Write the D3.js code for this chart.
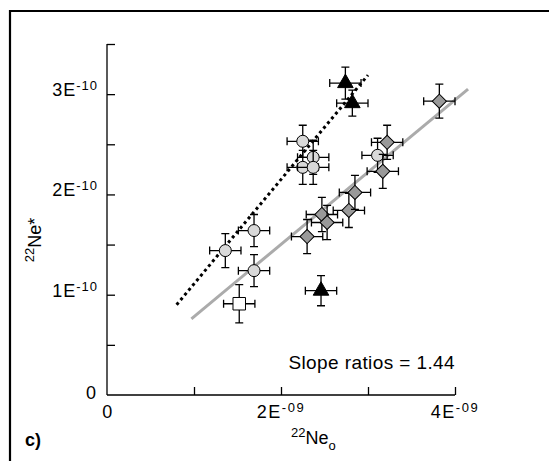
<!DOCTYPE html>
<html>
<head>
<meta charset="utf-8">
<script src="https://cdn.jsdelivr.net/npm/d3@7"></script>
<style>
  html, body { margin: 0; padding: 0; background: #fff; }
  svg { display: block; }
  text { font-family: "Liberation Sans", Arial, Helvetica, sans-serif; fill: #000; }
</style>
</head>
<body>
<svg id="chart" width="549" height="461"></svg>
<script>
// ---- data (x in units of 1E-09, y in units of 1E-10) ----
const circleX = [2.25, 2.37, 2.25, 2.37, 1.36, 1.69, 1.69, 3.11];
const circleY = [2.53, 2.37, 2.27, 2.27, 1.44, 1.64, 1.24, 2.39];
const circleYErr = [0.16, 0.17, 0.17, 0.17, 0.17, 0.16, 0.16, 0.17];

const diamondX = [2.30, 2.47, 2.53, 2.78, 2.85, 3.17, 3.22, 3.82];
const diamondY = [1.58, 1.80, 1.72, 1.84, 2.02, 2.23, 2.52, 2.93];
const diamondYErr = [0.17, 0.17, 0.17, 0.17, 0.17, 0.17, 0.17, 0.17];

const triangleX = [2.74, 2.82, 2.46];
const triangleY = [3.11, 2.91, 1.04];
const triangleYErr = [0.16, 0.13, 0.15];

const squareX = [1.52];
const squareY = [0.91];
const squareYErr = [0.19];

const xErr = 0.18;

const grayLineX = [0.97, 4.15];
const grayLineY = [0.76, 3.05];
const dotLineX = [0.80, 3.00];
const dotLineY = [0.90, 3.19];

const yTicks = [0.5, 1, 1.5, 2, 2.5, 3, 3.5];
const yLabelVals = [1, 2, 3];
const yLabelMain = ["1E", "2E", "3E"];
const yLabelSup = ["-10", "-10", "-10"];
const xTicks = [1, 2, 3, 4];
const xLabelVals = [2, 4];
const xLabelMain = ["2E", "4E"];
const xLabelSup = ["-09", "-09"];
const slopeText = "Slope ratios = 1.44";

// ---- layout ----
const svg = d3.select("#chart");
const x = d3.scaleLinear().domain([0, 4]).range([107, 455]);
const y = d3.scaleLinear().domain([0, 3.5]).range([395, 44]);

// frame (top and left edges)
svg.append("path").attr("d", "M10,461 L10,11 L549,11")
  .attr("fill", "none").attr("stroke", "#000").attr("stroke-width", 2.2);

// axes
const gy = svg.append("g").attr("transform", `translate(${x(0)},0)`)
  .call(d3.axisRight(y).tickValues(yTicks).tickSize(8).tickFormat(""));
const gx = svg.append("g").attr("transform", `translate(0,${y(0)})`)
  .call(d3.axisTop(x).tickValues(xTicks).tickSize(8).tickFormat(""));
[gy, gx].forEach(g => {
  g.select(".domain").attr("stroke", "#000").attr("stroke-width", 1.3);
  g.selectAll(".tick line").attr("stroke", "#000").attr("stroke-width", 1.3);
});
gy.select(".domain").attr("d", `M0,${y(3.5)}V${y(0)}`);
gx.select(".domain").attr("d", `M${x(0)},0H${x(4)}`);
gy.selectAll(".tick line").attr("x2", 8);

// y tick labels
const ylab = svg.append("g").style("font-size", "18px").style("letter-spacing", "1px");
yLabelVals.forEach((v, i) => {
  const t = ylab.append("text").attr("x", 98).attr("y", y(v) + 2).attr("text-anchor", "end");
  t.append("tspan").text(yLabelMain[i]);
  t.append("tspan").attr("dy", -6).style("font-size", "13px").text(yLabelSup[i]);
});
ylab.append("text").attr("x", 97).attr("y", y(0) + 4).attr("text-anchor", "end").text("0");

// x tick labels
const xlab = svg.append("g").style("font-size", "18px").style("letter-spacing", "1.5px");
xlab.append("text").attr("x", x(0) + 1).attr("y", 418).attr("text-anchor", "middle").text("0");
xLabelVals.forEach((v, i) => {
  const t = xlab.append("text").attr("x", x(v)).attr("y", 418).attr("text-anchor", "middle");
  t.append("tspan").text(xLabelMain[i]);
  t.append("tspan").attr("dy", -6).style("font-size", "13px").text(xLabelSup[i]);
});

// axis titles
const xt = svg.append("text").attr("x", 291).attr("y", 444).style("font-size", "18px");
xt.append("tspan").style("font-size", "13px").attr("dy", -7).text("22");
xt.append("tspan").attr("dy", 7).text("Ne");
xt.append("tspan").style("font-size", "13px").attr("dy", 6).text("o");

const yt = svg.append("text").attr("transform", "translate(41,240) rotate(-90)")
  .attr("text-anchor", "middle").style("font-size", "18px");
yt.append("tspan").style("font-size", "13px").attr("dy", -7).text("22");
yt.append("tspan").attr("dy", 7).text("Ne*");

svg.append("text").attr("x", 25).attr("y", 446).style("font-size", "18px")
  .style("font-weight", "bold").text("c)");

svg.append("text").attr("x", 455).attr("y", 369).attr("text-anchor", "end")
  .style("font-size", "19px").style("letter-spacing", "0.4px").text(slopeText);

// fit lines
const line = d3.line().x(d => x(d[0])).y(d => y(d[1]));
svg.append("path").datum(d3.zip(grayLineX, grayLineY)).attr("d", line)
  .attr("fill", "none").attr("stroke", "#ababab").attr("stroke-width", 3);
svg.append("path").datum(d3.zip(dotLineX, dotLineY)).attr("d", line)
  .attr("fill", "none").attr("stroke", "#000").attr("stroke-width", 3)
  .attr("stroke-dasharray", "3,3.2");

// points with error bars
function build(xs, ys, yerrs, kind) {
  return xs.map((v, i) => ({ x: v, y: ys[i], ey: yerrs[i], kind }));
}
const pts = [].concat(
  build(squareX, squareY, squareYErr, "square"),
  build(circleX, circleY, circleYErr, "circle"),
  build(diamondX, diamondY, diamondYErr, "diamond"),
  build(triangleX, triangleY, triangleYErr, "triangle")
);

const cap = 4;
const sym = {
  circle: d3.symbol().type(d3.symbolCircle).size(Math.PI * 6 * 6),
  square: d3.symbol().type(d3.symbolSquare).size(12.5 * 12.5),
  diamond: d3.symbol().type(d3.symbolSquare).size(10 * 10),
  triangle: d3.symbol().type(d3.symbolTriangle).size(105)
};
const fill = { circle: "#d9d9d9", square: "#fff", diamond: "#999999", triangle: "#000" };

const g = svg.append("g");
pts.forEach(p => {
  const cx = x(p.x), cy = y(p.y);
  const x0 = x(p.x - xErr), x1 = x(p.x + xErr);
  const y0 = y(p.y - p.ey), y1 = y(p.y + p.ey);
  const pg = g.append("g");
  const d = `M${x0},${cy}H${x1}M${x0},${cy - cap}V${cy + cap}M${x1},${cy - cap}V${cy + cap}` +
            `M${cx},${y0}V${y1}M${cx - cap},${y0}H${cx + cap}M${cx - cap},${y1}H${cx + cap}`;
  pg.append("path").attr("d", d).attr("fill", "none").attr("stroke", "#000").attr("stroke-width", 1.3);
  let tr = `translate(${cx},${cy})`;
  if (p.kind === "diamond") tr += " rotate(45)";
  pg.append("path").attr("d", sym[p.kind]()).attr("transform", tr)
    .attr("fill", fill[p.kind]).attr("stroke", "#000").attr("stroke-width", 1);
});
</script>
</body>
</html>
